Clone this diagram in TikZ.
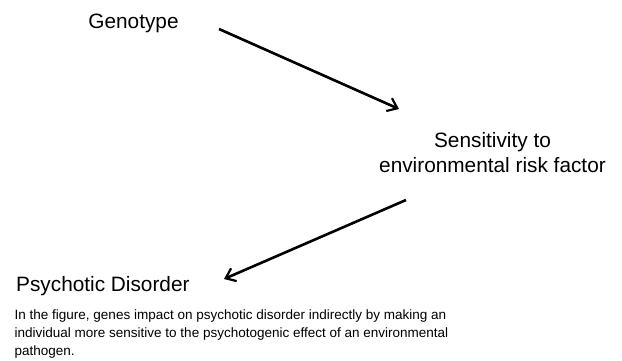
\documentclass[tikz,border=0pt]{standalone}
\usepackage{fontspec}
\setmainfont{Liberation Sans}
\usetikzlibrary{arrows.meta}

\begin{document}
\begin{tikzpicture}[x=1pt, y=-1pt,
    label/.style={inner sep=0pt, font=\fontsize{20.8}{24.5}\selectfont},
    arr/.style={line width=2.6pt, -{Straight Barb[length=9pt, width=14pt, line width=2.2pt]}}]

  \useasboundingbox (0,0) rectangle (622,360);

  \node[label, anchor=base] (geno) at (133.5,28.5) {Genotype};
  \node[label, align=center, anchor=north] (sens) at (492.5,132.5) {Sensitivity to\\environmental risk factor};
  \node[label, anchor=base west] (psych) at (16,291) {Psychotic Disorder};
  \node[inner sep=0pt, anchor=north west, align=left,
        font=\fontsize{13.5}{18}\selectfont] (caption) at (14.5,309.8)
    {In the figure, genes impact on psychotic disorder indirectly by making an\\
     individual more sensitive to the psychotogenic effect of an environmental\\
     pathogen.};

  \coordinate (g1) at (219,29);
  \coordinate (s1) at (399,109);
  \coordinate (s2) at (406,200);
  \coordinate (p1) at (224,279);
  \draw[arr] (g1) -- (s1);
  \draw[arr] (s2) -- (p1);
\end{tikzpicture}
\end{document}
